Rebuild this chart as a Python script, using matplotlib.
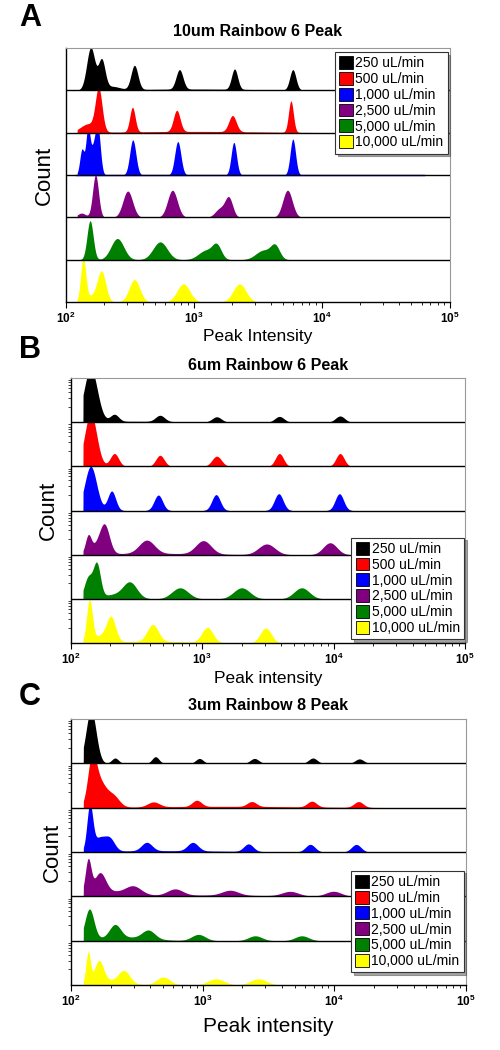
import numpy as np
import matplotlib
matplotlib.use("Agg")
import matplotlib.pyplot as plt
from matplotlib.patches import Patch
from matplotlib.ticker import LogLocator, NullFormatter, FixedLocator

plt.rcParams['font.family'] = ['Liberation Sans', 'DejaVu Sans']
plt.rcParams['mathtext.fontset'] = 'custom'
plt.rcParams['mathtext.rm'] = 'Liberation Sans'
plt.rcParams['mathtext.bf'] = 'Liberation Sans:bold'

# ---------------- data ----------------
flow_labels = ["250 uL/min", "500 uL/min", "1,000 uL/min", "2,500 uL/min",
               "5,000 uL/min", "10,000 uL/min"]
colors = ["#000000", "#ff0000", "#0000ff", "#800080", "#008000", "#ffff00"]
panel_titles = ["10um Rainbow 6 Peak", "6um Rainbow 6 Peak", "3um Rainbow 8 Peak"]
panel_letters = ["A", "B", "C"]
xlabels = ["Peak Intensity", "Peak intensity", "Peak intensity"]
detection_threshold = [123, 124, 124]

# Peak centres (intensity), relative heights (fraction of row), widths (decades)
A_centers = [[157, 191, 230, 344, 773, 2080, 5930, 1000],
             [150, 181, 332, 736, 2005, 5730, 1000],
             [134, 149, 165, 179, 334, 750, 2053, 5930],
             [133, 171, 305, 681, 1600, 1877, 5390],
             [155, 253, 546, 1250, 1513, 3500, 4316],
             [137, 165, 191, 344, 830, 2275]]
A_heights = [[1.0, 0.68, 0.08, 0.57, 0.46, 0.48, 0.48, 0.03],
             [0.2, 0.98, 0.58, 0.5, 0.38, 0.74, 0.03],
             [0.6, 1.0, 0.62, 0.93, 0.83, 0.79, 0.77, 0.85],
             [0.1, 1.0, 0.62, 0.64, 0.2, 0.45, 0.64],
             [0.92, 0.5, 0.42, 0.22, 0.3, 0.22, 0.3],
             [1.0, 0.15, 0.67, 0.53, 0.43, 0.43]]
A_widths = [[0.032, 0.026, 0.06, 0.027, 0.027, 0.024, 0.024, 0.5],
            [0.06, 0.026, 0.021, 0.026, 0.029, 0.019, 0.5],
            [0.017, 0.016, 0.025, 0.019, 0.024, 0.024, 0.021, 0.021],
            [0.032, 0.023, 0.038, 0.038, 0.038, 0.03, 0.037],
            [0.024, 0.05, 0.055, 0.06, 0.035, 0.06, 0.035],
            [0.02, 0.05, 0.032, 0.042, 0.05, 0.05]]

B_centers = [[142, 215, 478, 1291, 3870, 11200, 300],
             [142, 215, 478, 1291, 3870, 11200],
             [142, 205, 464, 1276, 3827, 11070],
             [136, 160, 182, 379, 1022, 3100, 9400, 400],
             [136, 158, 220, 283, 679, 2000, 5720],
             [139, 170, 203, 421, 1096, 3046, 400]]
B_heights = [[1.2, 0.16, 0.14, 0.12, 0.13, 0.14, 0.02],
             [1.2, 0.29, 0.25, 0.23, 0.29, 0.29],
             [1.0, 0.44, 0.35, 0.36, 0.38, 0.38],
             [0.38, 0.2, 0.58, 0.3, 0.3, 0.24, 0.27, 0.03],
             [0.47, 0.75, 0.1, 0.33, 0.25, 0.25, 0.25],
             [0.95, 0.15, 0.55, 0.38, 0.34, 0.34, 0.04]]
B_widths = [[0.05, 0.032, 0.035, 0.035, 0.035, 0.035, 0.3],
            [0.045, 0.032, 0.032, 0.036, 0.031, 0.031],
            [0.045, 0.03, 0.032, 0.032, 0.033, 0.032],
            [0.022, 0.045, 0.036, 0.058, 0.058, 0.062, 0.052, 0.4],
            [0.03, 0.027, 0.1, 0.052, 0.062, 0.062, 0.058],
            [0.022, 0.045, 0.034, 0.042, 0.042, 0.042, 0.3]]

C_centers = [[142, 216, 438, 945, 2475, 6870, 15500],
             [144, 165, 210, 423, 902, 2361, 6750, 15280, 1500],
             [139, 165, 198, 376, 841, 2228, 6560, 14660, 500],
             [135, 166, 200, 298, 617, 1617, 4620, 9860, 1000],
             [138, 216, 250, 387, 929, 2506, 5660],
             [135, 163, 200, 253, 502, 1265, 2654]]
C_heights = [[1.2, 0.12, 0.15, 0.11, 0.11, 0.12, 0.1],
             [0.95, 0.55, 0.24, 0.11, 0.14, 0.11, 0.13, 0.13, 0.03],
             [1.0, 0.3, 0.25, 0.19, 0.19, 0.17, 0.17, 0.17, 0.03],
             [0.75, 0.44, 0.1, 0.17, 0.14, 0.11, 0.1, 0.11, 0.03],
             [0.68, 0.29, 0.08, 0.19, 0.14, 0.11, 0.11],
             [0.69, 0.48, 0.1, 0.26, 0.18, 0.14, 0.14]]
C_widths = [[0.038, 0.026, 0.026, 0.028, 0.032, 0.032, 0.032],
            [0.032, 0.05, 0.045, 0.045, 0.035, 0.035, 0.035, 0.035, 0.6],
            [0.022, 0.045, 0.036, 0.04, 0.04, 0.036, 0.036, 0.036, 0.5],
            [0.022, 0.042, 0.15, 0.058, 0.058, 0.062, 0.062, 0.058, 0.5],
            [0.034, 0.042, 0.2, 0.048, 0.052, 0.052, 0.052],
            [0.017, 0.034, 0.12, 0.042, 0.052, 0.062, 0.062]]

panel_centers = [A_centers, B_centers, C_centers]
panel_heights = [A_heights, B_heights, C_heights]
panel_widths = [A_widths, B_widths, C_widths]

# ---------------- layout (pixel boxes) ----------------
W, H = 500, 1050
axes_px = [(65.7, 48, 450, 302), (70.7, 378, 465, 643), (71, 719, 466, 985)]
legend_anchor = [(0.994, 0.985), (0.997, 0.398), (0.994, 0.43)]
letter_y = [18, 350, 697]
title_y = [32, 365, 706]
xlabel_y = [336, 678, 1026]
xlabel_fs = [12.5, 12.5, 15]
count_x = [44, 48, 52]

fig = plt.figure(figsize=(W / 100, H / 100), dpi=100)

lx = np.linspace(2, 5, 3000)
xs = 10 ** lx
nrows = len(flow_labels)

for p in range(3):
    l, t, r, b = axes_px[p]
    ax = fig.add_axes([l / W, 1 - b / H, (r - l) / W, (b - t) / H])
    ax.set_xscale('log')
    ax.set_xlim(1e2, 1e5)
    ax.set_ylim(0, nrows)
    for i in range(nrows):
        base = nrows - 1 - i
        y = np.zeros_like(lx)
        for c, h, w in zip(panel_centers[p][i], panel_heights[p][i], panel_widths[p][i]):
            y += h * np.exp(-0.5 * ((lx - np.log10(c)) / w) ** 2)
        y = np.minimum(y, 1.0)
        y[xs < detection_threshold[p]] = 0
        y[y < 0.004] = 0
        ax.fill_between(xs, base, base + y, color=colors[i], linewidth=0, zorder=2)
        if p == 0 and i == 2:
            ax.plot([120, 6.3e4], [base + 0.01, base + 0.01], color=colors[i], lw=1, zorder=3)
    for k in range(1, nrows):
        ax.axhline(k, color='black', lw=1.0, zorder=4)
    for s in ['top', 'right']:
        ax.spines[s].set_color('#999999')
        ax.spines[s].set_linewidth(0.8)
    for s in ['left', 'bottom']:
        ax.spines[s].set_color('black')
        ax.spines[s].set_linewidth(1.0)
    ax.xaxis.set_major_locator(FixedLocator([1e2, 1e3, 1e4, 1e5]))
    ax.xaxis.set_minor_locator(LogLocator(base=10, subs=np.arange(2, 10), numticks=20))
    ax.xaxis.set_minor_formatter(NullFormatter())
    ax.set_xticklabels([r'$\mathbf{10^{2}}$', r'$\mathbf{10^{3}}$',
                        r'$\mathbf{10^{4}}$', r'$\mathbf{10^{5}}$'], fontsize=8.5)
    ax.tick_params(axis='x', which='major', length=4, width=0.8, direction='out', pad=2)
    ax.tick_params(axis='x', which='minor', length=2, width=0.6, direction='out')
    ax.set_yticks([])
    if p > 0:
        minor_y = []
        for k in range(nrows):
            for f in [0.35, 0.55, 0.68, 0.77, 0.84, 0.9, 0.95]:
                minor_y.append(k + f)
        ax.set_yticks(minor_y, minor=True)
        ax.tick_params(axis='y', which='minor', length=2, width=0.5, direction='out')
        ax.yaxis.set_minor_formatter(NullFormatter())

    handles = [Patch(facecolor=c, edgecolor='black', linewidth=0.6) for c in colors]
    leg = ax.legend(handles, flow_labels, loc='upper right', bbox_to_anchor=legend_anchor[p],
                    fontsize=10, frameon=True, fancybox=False, shadow=True,
                    handlelength=1.0, handleheight=1.05, handletextpad=0.15,
                    labelspacing=0.12, borderpad=0.3, borderaxespad=0)
    leg.get_frame().set_edgecolor('#333333')
    leg.get_frame().set_linewidth(0.8)
    leg.set_zorder(10)

    cx = (l + r) / 2
    fig.text(cx / W, 1 - title_y[p] / H, panel_titles[p], ha='center', va='center',
             fontsize=11.5, fontweight='bold')
    fig.text(30 / W, 1 - letter_y[p] / H, panel_letters[p], ha='center', va='center',
             fontsize=22, fontweight='bold')
    fig.text(cx / W, 1 - xlabel_y[p] / H, xlabels[p], ha='center', va='center',
             fontsize=xlabel_fs[p])
    fig.text(count_x[p] / W, 1 - ((t + b) / 2) / H, "Count", ha='center', va='center',
             rotation=90, fontsize=16)

fig.savefig("out.png", dpi=100)
